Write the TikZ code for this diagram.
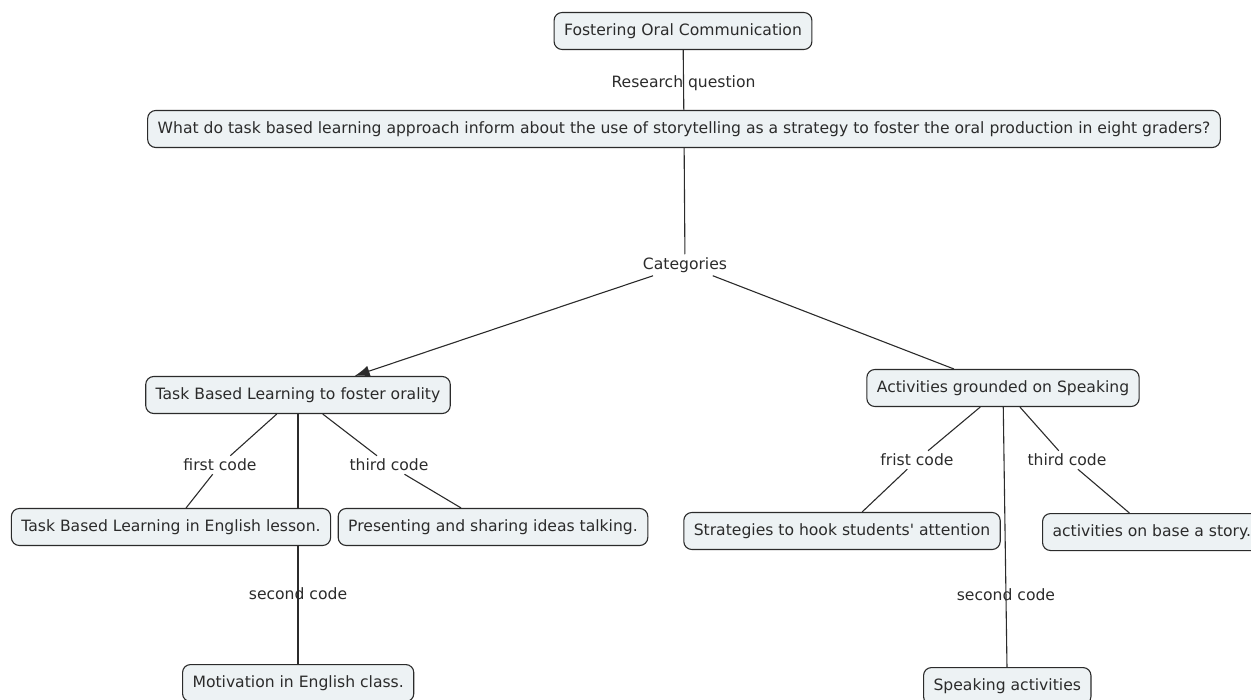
\documentclass[tikz,border=0pt]{standalone}
\usepackage{fontspec}
\setmainfont{DejaVu Sans}
\usetikzlibrary{arrows.meta,backgrounds}

\definecolor{boxfill}{HTML}{EDF2F4}
\definecolor{ink}{HTML}{2B2B2B}

\tikzset{
	concept/.style={draw=ink, line width=1.1pt, fill=boxfill, rounded corners=8pt, text=ink,
		minimum height=37pt, inner xsep=10pt, inner ysep=2pt, font=\fontsize{15.6}{17}\selectfont},
	linking/.style={text=ink, inner sep=3pt, font=\fontsize{15.6}{17}\selectfont},
	link/.style={draw=ink, line width=1.1pt}
}

\begin{document}
\begin{tikzpicture}[x=1pt,y=-1pt]
		\useasboundingbox (0,0) rectangle (1251,700);
		
		\node[concept] (top) at (683,31) {Fostering Oral Communication};
		\node[concept] (q) at (684,129) {What do task based learning approach inform about the use of storytelling as a strategy to foster the oral production in eight graders?};
		\node[linking] (cat) at (685,265) {Categories};
		
		\node[concept] (tbl) at (298,395) {Task Based Learning to foster orality};
		\node[concept] (act) at (1003,388) {Activities grounded on Speaking};
		
		\node[linking] (first) at (220,465) {first code};
		\node[linking] (third) at (389,465) {third code};
		\node[linking] (frist) at (917,460) {frist code};
		\node[linking] (thirdr) at (1067,460) {third code};
		
		\node[concept] (tble) at (171,527) {Task Based Learning in English lesson.};
		\node[concept] (pres) at (493,527) {Presenting and sharing ideas talking.};
		\node[concept, anchor=north west] (mot) at (182,664) {Motivation in English class.};
		
		\node[concept] (strat) at (842,531) {Strategies to hook students\textquotesingle{} attention};
		\node[concept, anchor=north west] (story) at (1042,513) {activities on base a story.};
		\node[concept, anchor=north west] (spk) at (923,667) {Speaking activities};
		
		\begin{pgfonlayer}{background}
		\draw[link] (top) -- node[linking, pos=0.55]{Research question} (q);
		\draw[link] (q) -- (cat);
		\draw[link, -{Latex[length=15pt,width=11pt]}] (cat) -- (tbl);
		\draw[link] (cat) -- (act);
		
		\draw[link] (tbl) -- (first) -- (tble);
		\draw[link] (tbl) -- (third) -- (pres);
		\draw[link] (tbl) -- node[linking, pos=0.72]{second code} (tbl |- mot.north);
		
		\draw[link] (act) -- (frist) -- (strat);
		\draw[link] (act) -- (thirdr) -- (story);
		\draw[link] (act) -- node[linking, pos=0.72]{second code} (spk);
		\end{pgfonlayer}
	\end{tikzpicture}
\end{document}
